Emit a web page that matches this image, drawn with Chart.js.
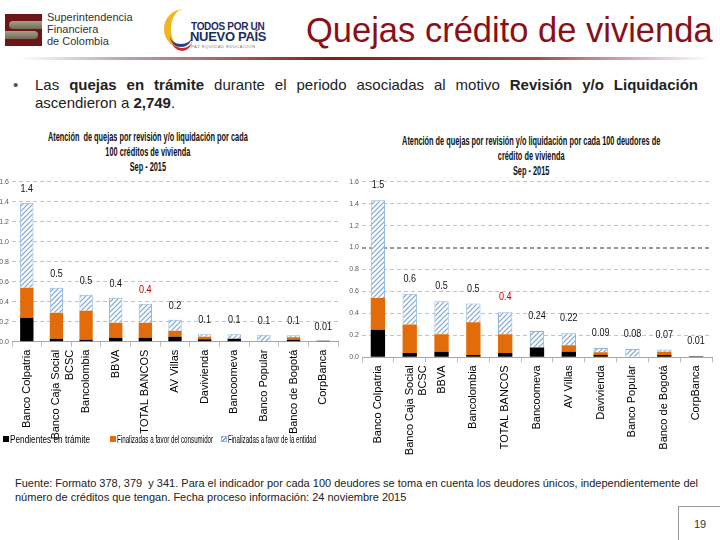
<!DOCTYPE html>
<html>
<head>
<meta charset="utf-8">
<script src="https://cdn.jsdelivr.net/npm/chart.js@4.4.1/dist/chart.umd.min.js"></script>
<style>
  body { margin: 0; width: 720px; height: 540px; background: #fff; position: relative; overflow: hidden; font-family: 'Liberation Sans', Arial, sans-serif; }
  .abs { position: absolute; }
  #titulo { left: 306px; top: 11px; font-size: 34.5px; color: #8b0f16; white-space: nowrap; }
  #linea { left: 20px; top: 57px; width: 690px; height: 3px; background: linear-gradient(to right, rgba(180,180,180,0), #b7a7a7 15%, #8b1a1a 45%, #9a5050 75%, rgba(200,200,200,0)); }
  #bullet { left: 35px; top: 76px; width: 663px; font-size: 15px; line-height: 18px; color: #222; text-align: justify; }
  #punto { left: 13px; top: 76px; font-size: 15px; line-height: 18px; color: #555; }
  .tit { font-weight: bold; font-size: 12.5px; line-height: 15px; text-align: center; color: #111; white-space: nowrap; }
  .ley { top: 433px; font-size: 10.5px; line-height: 12px; color: #000; white-space: nowrap; transform-origin: left center; }
  .caja { top: 436px; width: 6px; height: 6px; }
  #fuente { left: 15px; top: 476px; font-size: 11px; line-height: 14px; color: #222; white-space: nowrap; }
  #pagina { left: 678px; top: 506px; width: 42px; height: 34px; border-left: 1px solid #999; border-top: 1px solid #999; font-size: 11px; color: #333; text-align: center; line-height: 34px; }
  canvas { position: absolute; }
</style>
</head>
<body>

<!-- logo Superintendencia -->
<div class="abs" style="left:5px;top:14px;width:37px;height:32px;background:#6e1518;"></div>
<div class="abs" style="left:9px;top:21px;width:33px;height:8px;background:linear-gradient(#a9a08a,#6f6a55);border-radius:6px 0 0 6px;"></div>
<div class="abs" style="left:5px;top:31px;width:33px;height:8px;background:linear-gradient(#a9a08a,#6f6a55);border-radius:0 6px 6px 0;"></div>
<div class="abs" style="left:47px;top:11px;font-size:11px;line-height:12px;color:#333;">Superintendencia<br>Financiera<br>de Colombia</div>

<!-- logo Todos por un nuevo país -->
<div class="abs" style="left:164px;top:9px;width:30px;height:40px;border-left:7px solid #f2b51d;border-radius:30px 0 0 30px;box-sizing:border-box;"></div>
<div class="abs" style="left:170px;top:34px;width:22px;height:10px;border-bottom:3px solid #1f3f8f;border-radius:0 0 20px 20px;"></div>
<div class="abs" style="left:172px;top:38px;width:20px;height:10px;border-bottom:3px solid #d2232a;border-radius:0 0 20px 20px;"></div>
<div class="abs" style="left:191px;top:21px;font-size:10px;font-weight:bold;color:#1d2b5e;letter-spacing:-0.3px;">TODOS POR UN</div>
<div class="abs" style="left:190px;top:29px;font-size:13px;font-weight:bold;color:#1d2b5e;letter-spacing:-0.3px;">NUEVO PAÍS</div>
<div class="abs" style="left:191px;top:44px;font-size:4px;color:#777;letter-spacing:0.6px;">PAZ EQUIDAD EDUCACIÓN</div>

<div id="titulo" class="abs">Quejas crédito de vivienda</div>
<div id="linea" class="abs"></div>

<div id="punto" class="abs">•</div>
<div id="bullet" class="abs">Las <b>quejas en trámite</b> durante el periodo asociadas al motivo <b>Revisión y/o Liquidación</b> ascendieron a <b>2,749</b>.</div>

<div id="titCred" class="abs tit" data-centro="148" data-ancho="200" style="top:130px;">Atención&nbsp; de quejas por revisión y/o liquidación por cada<br>100 créditos de vivienda<br>Sep - 2015</div>
<div id="titDeud" class="abs tit" data-centro="531" data-ancho="258" style="top:134px;">Atención de quejas por revisión y/o liquidación por cada 100 deudores de<br>crédito de vivienda<br>Sep - 2015</div>

<canvas id="creditos" style="left:-14px;top:126px;" width="354" height="320"></canvas>
<canvas id="deudores" style="left:340px;top:126px;" width="380" height="344"></canvas>

<div class="abs caja" style="left:3px;background:#000;"></div>
<div class="abs ley" data-ancho="80" style="left:10px;">Pendientes en trámite</div>
<div class="abs caja" style="left:110px;background:#e36c0a;"></div>
<div class="abs ley" data-ancho="96" style="left:117px;">Finalizadas a favor del consumidor</div>
<div class="abs caja" style="left:221px;box-sizing:border-box;border:1px solid #8db3e2;background:repeating-linear-gradient(-45deg,#fff 0 1.5px,#7aa3d6 1.5px 3px);"></div>
<div class="abs ley" data-ancho="88" style="left:228px;">Finalizadas a favor de la entidad</div>

<div id="fuente" class="abs">Fuente: Formato 378, 379&nbsp; y 341. Para el indicador por cada 100 deudores se toma en cuenta los deudores únicos, independientemente del<br>número de créditos que tengan. Fecha proceso información: 24 noviembre 2015</div>
<div id="pagina" class="abs">19</div>

<script>
// quejas por cada 100 créditos
const bancosCred = ['Banco Colpatria', ['Banco Caja Social', 'BCSC'], 'Bancolombia', 'BBVA', 'TOTAL BANCOS', 'AV Villas', 'Davivienda', 'Bancoomeva', 'Banco Popular', 'Banco de Bogotá', 'CorpBanca'];
const pendCred = [0.24, 0.03, 0.02, 0.04, 0.04, 0.05, 0.024, 0.03, 0, 0.02, 0.01];
const consCred = [0.30, 0.26, 0.29, 0.15, 0.15, 0.06, 0.026, 0, 0, 0.025, 0];
const entCred  = [0.85, 0.25, 0.16, 0.25, 0.19, 0.11, 0.024, 0.045, 0.07, 0.02, 0];
const etiqCred = ['1.4', '0.5', '0.5', '0.4', '0.4', '0.2', '0.1', '0.1', '0.1', '0.1', '0.01'];

// quejas por cada 100 deudores
const bancosDeud = ['Banco Colpatria', ['Banco Caja Social', 'BCSC'], 'BBVA', 'Bancolombia', 'TOTAL BANCOS', 'Bancoomeva', 'AV Villas', 'Davivienda', 'Banco Popular', 'Banco de Bogotá', 'CorpBanca'];
const pendDeud = [0.25, 0.04, 0.05, 0.02, 0.04, 0.09, 0.05, 0.02, 0, 0.02, 0.01];
const consDeud = [0.29, 0.26, 0.16, 0.30, 0.17, 0, 0.06, 0.025, 0, 0.03, 0];
const entDeud  = [0.89, 0.28, 0.30, 0.17, 0.20, 0.15, 0.11, 0.04, 0.075, 0.02, 0];
const etiqDeud = ['1.5', '0.6', '0.5', '0.5', '0.4', '0.24', '0.22', '0.09', '0.08', '0.07', '0.01'];

const FUENTE = "'Liberation Sans', Arial, sans-serif";

// texto angosto como en la lámina (Arial Narrow)
document.querySelectorAll('.tit').forEach(el => {
  const k = +el.dataset.ancho / el.offsetWidth;
  el.style.left = (+el.dataset.centro - el.offsetWidth / 2) + 'px';
  el.style.transform = 'scaleX(' + k + ')';
});
document.querySelectorAll('.ley').forEach(el => {
  el.style.transform = 'scaleX(' + (+el.dataset.ancho / el.offsetWidth) + ')';
});

function rayado() {
  const c = document.createElement('canvas');
  c.width = c.height = 5;
  const g = c.getContext('2d');
  g.fillStyle = '#fff';
  g.fillRect(0, 0, 5, 5);
  g.strokeStyle = '#7aa3d6';
  g.lineWidth = 1.2;
  g.beginPath();
  g.moveTo(0, 5); g.lineTo(5, 0);
  g.moveTo(-1, 1); g.lineTo(1, -1);
  g.moveTo(4, 6); g.lineTo(6, 4);
  g.stroke();
  return g.createPattern(c, 'repeat');
}

// etiqueta de total sobre cada barra
function etiquetas(textos, bancos, offset) {
  return {
    id: 'etiquetas',
    afterDatasetsDraw(chart) {
      const ctx = chart.ctx, x = chart.scales.x, y = chart.scales.y;
      textos.forEach((t, i) => {
        let total = 0;
        chart.data.datasets.forEach(d => total += d.data[i]);
        ctx.save();
        ctx.translate(x.getPixelForValue(i), y.getPixelForValue(total) - offset);
        ctx.scale(0.82, 1);
        ctx.font = '11px ' + FUENTE;
        ctx.textAlign = 'center';
        ctx.textBaseline = 'middle';
        ctx.fillStyle = bancos[i] === 'TOTAL BANCOS' ? '#c00000' : '#111';
        ctx.fillText(t, 0, 0);
        ctx.restore();
      });
    }
  };
}

function grafico(id, bancos, pend, cons, ent, textos, cfg) {
  return new Chart(document.getElementById(id), {
    type: 'bar',
    data: {
      labels: bancos,
      datasets: [
        { label: 'Pendientes en trámite', data: pend, backgroundColor: '#000', borderWidth: 0 },
        { label: 'Finalizadas a favor del consumidor', data: cons, backgroundColor: '#e36c0a', borderWidth: 0 },
        { label: 'Finalizadas a favor de la entidad', data: ent, backgroundColor: rayado(), borderColor: '#8db3e2', borderWidth: 1 }
      ]
    },
    options: {
      responsive: false,
      animation: false,
      layout: { padding: { top: 55.7, right: cfg.right, left: 0, bottom: 0 } },
      datasets: { bar: { categoryPercentage: 1, barPercentage: 0.45 } },
      scales: {
        x: {
          stacked: true,
          grid: { display: true, drawOnChartArea: false, drawTicks: true, tickLength: 5, color: '#bbb', offset: true },
          border: { display: true, color: '#a6a6a6' },
          ticks: { minRotation: 90, maxRotation: 90, autoSkip: false, padding: 3, color: '#000', font: { family: FUENTE, size: 11 } },
          afterFit: s => { s.height = s.chart.height - cfg.bottom; }
        },
        y: {
          stacked: true,
          min: 0, max: 1.6,
          ticks: { stepSize: 0.2, padding: 3, color: '#595959', callback: v => v.toFixed(1), font: { family: FUENTE, size: 7 } },
          grid: {
            drawTicks: false,
            color: c => cfg.linea1 && Math.abs(c.tick.value - 1) < 1e-6 ? '#9a9a9a' : '#c3c3c3',
            lineWidth: c => cfg.linea1 && Math.abs(c.tick.value - 1) < 1e-6 ? 2 : 1
          },
          border: { display: false, dash: [4, 3] },
          afterFit: s => { s.width = cfg.ancho; }
        }
      },
      plugins: {
        legend: { display: false },
        tooltip: { enabled: false }
      }
    },
    plugins: [etiquetas(textos, bancos, cfg.offset)]
  });
}

grafico('creditos', bancosCred, pendCred, consCred, entCred, etiqCred,
  { right: 2, ancho: 26, bottom: 215.7, linea1: false, offset: 14 });
grafico('deudores', bancosDeud, pendDeud, consDeud, entDeud, etiqDeud,
  { right: 8, ancho: 22, bottom: 231.3, linea1: true, offset: 15 });
</script>
</body>
</html>
